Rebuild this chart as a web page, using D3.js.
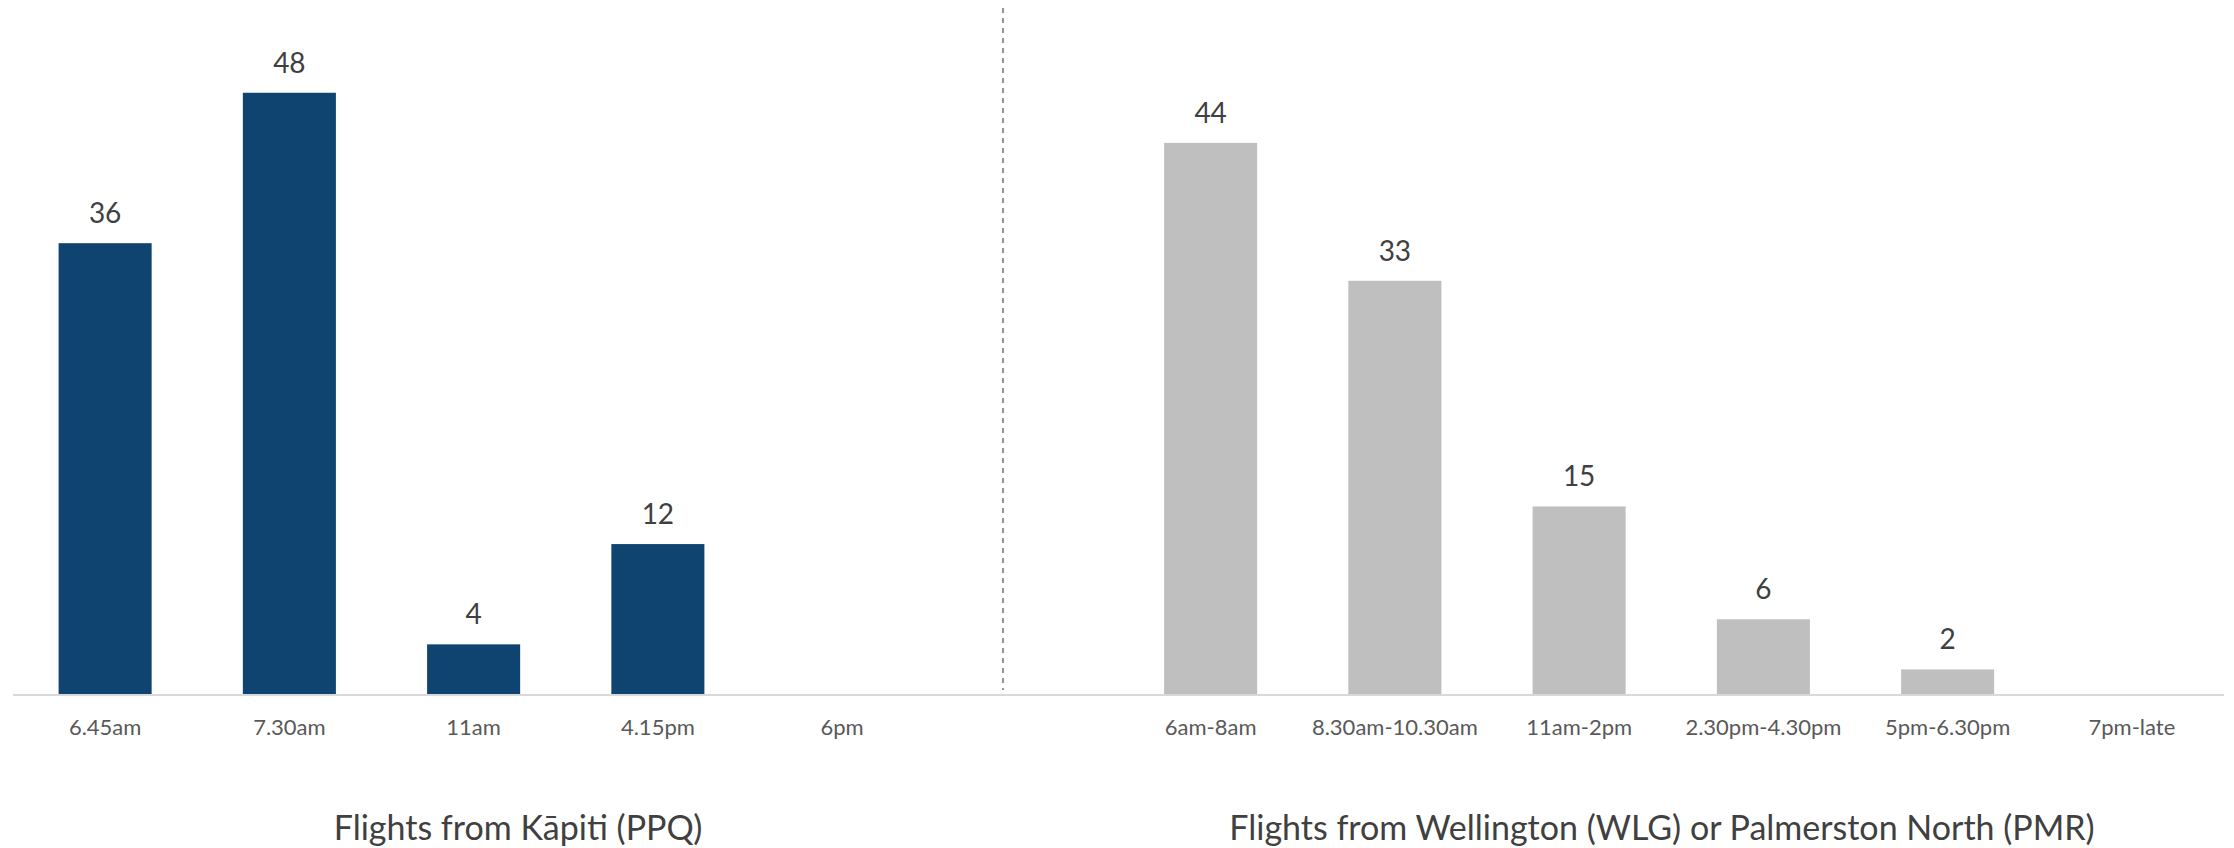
<!DOCTYPE html>
<html>
<head>
<meta charset="utf-8">
<script src="https://cdn.jsdelivr.net/npm/d3@7"></script>
<style>
  html, body { margin: 0; padding: 0; background: #ffffff; }
  svg { display: block; }
  text { font-family: Lato, "Open Sans", sans-serif; }
</style>
</head>
<body>
<svg id="chart" width="2234" height="848"></svg>
<script>
// Kāpiti departures
const kapitiTimes = ["6.45am", "7.30am", "11am", "4.15pm", "6pm"];
const kapitiCounts = [36, 48, 4, 12, null];

// Wellington / Palmerston North departures
const wlgPmrTimes = ["6am-8am", "8.30am-10.30am", "11am-2pm", "2.30pm-4.30pm", "5pm-6.30pm", "7pm-late"];
const wlgPmrCounts = [44, 33, 15, 6, 2, null];

const panelTitles = ["Flights from Kāpiti (PPQ)", "Flights from Wellington (WLG) or Palmerston North (PMR)"];
const yMax = 55;

const svg = d3.select("#chart");
const baseY = 694.5, topY = 5;
const step = (2224 - 13) / 12;

const y = d3.scaleLinear().domain([0, yMax]).range([baseY, topY]);

const panels = [
  { cats: kapitiTimes, vals: kapitiCounts, color: "#0f4470",
    x0: 13, x1: 13 + 5 * step, title: panelTitles[0], titleX: 518 },
  { cats: wlgPmrTimes, vals: wlgPmrCounts, color: "#bfbfbf",
    x0: 13 + 6 * step, x1: 2224, title: panelTitles[1], titleX: 1662 }
];

panels.forEach(p => {
  const x = d3.scaleBand().domain(p.cats).range([p.x0, p.x1])
    .paddingInner(0.495).paddingOuter(0.2475);
  const data = p.cats.map((c, i) => ({ c, v: p.vals[i] }));
  const g = svg.append("g");

  g.selectAll("rect").data(data.filter(d => d.v != null)).join("rect")
    .attr("x", d => x(d.c))
    .attr("width", x.bandwidth())
    .attr("y", d => y(d.v))
    .attr("height", d => y(0) - y(d.v))
    .attr("fill", p.color);

  g.selectAll("text.val").data(data.filter(d => d.v != null)).join("text")
    .attr("class", "val")
    .attr("x", d => x(d.c) + x.bandwidth() / 2)
    .attr("y", d => y(d.v) - 20)
    .attr("text-anchor", "middle")
    .attr("font-size", 28)
    .attr("fill", "#404040")
    .text(d => d.v);

  const axis = d3.axisBottom(x).tickSize(0).tickPadding(0);
  const ag = g.append("g").attr("transform", `translate(0,${baseY})`).call(axis);
  ag.select(".domain").remove();
  ag.selectAll("text")
    .attr("y", 40)
    .attr("dy", null)
    .attr("font-family", "Lato, 'Open Sans', sans-serif")
    .attr("font-size", 22)
    .attr("fill", "#595959");

  svg.append("text")
    .attr("x", p.titleX)
    .attr("y", 840)
    .attr("text-anchor", "middle")
    .attr("font-size", 34)
    .attr("fill", "#404040")
    .text(p.title);
});

// category axis line across both panels
svg.append("line")
  .attr("x1", 13).attr("x2", 2224)
  .attr("y1", baseY + 0.5).attr("y2", baseY + 0.5)
  .attr("stroke", "#d9d9d9").attr("stroke-width", 2);

// dashed divider between the two groups
svg.append("line")
  .attr("x1", 1003).attr("x2", 1003)
  .attr("y1", 8).attr("y2", 690)
  .attr("stroke", "#595959").attr("stroke-width", 1.3)
  .attr("stroke-dasharray", "5,5");
</script>
</body>
</html>
